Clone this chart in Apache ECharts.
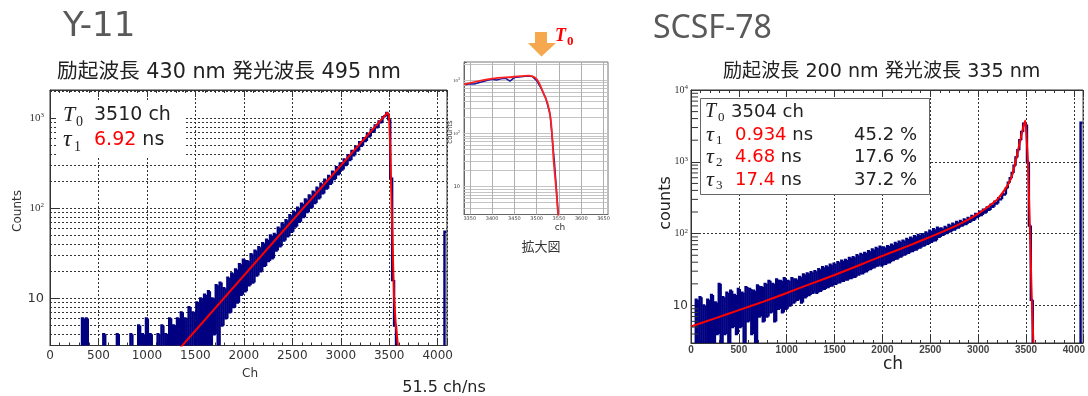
<!DOCTYPE html>
<html><head><meta charset="utf-8">
<script src="https://cdn.jsdelivr.net/npm/echarts@6.0.0/dist/echarts.min.js"></script>
<style>html,body{margin:0;padding:0;background:#fff}#c{width:1088px;height:396px}</style>
</head><body><div id="c"></div>
<script>
// ---------------- data ----------------
const chStep = 20; // digitised channel spacing of the measured histograms
// Y-11 measured counts, channel = index * chStep (values < 3 lie below the axis)
const y11Counts = [
  1,1,1,1,1,1,1,1,1,1,
  1,1,1,1,1,1,1,6,3,6,
  1,1,1,1,1,1,1,1,4,1,
  1,1,1,1,1,4,1,1,1,1,
  1,1,4,1,1,1,5,1,4,1,
  6,1,4,1,1,1,4,1,5,1,
  4,1,6,2,5,1,6,2,7,1,
  6,2,8,2,7,1,9,2,10,3,
  11,2,12,3,10,4,14,3,15,5,
  13,6,17,7,19,8,21,9,24,11,
  27,12,26,14,31,15,34,18,37,20,
  41,23,45,26,50,28,52,34,61,38,
  68,44,74,49,84,55,92,63,102,71,
  113,80,126,91,139,102,153,115,170,130,
  188,147,208,166,230,188,256,212,287,240,
  316,270,350,304,390,345,434,390,486,440,
  543,496,604,560,672,630,750,710,836,796,
  928,905,1030,1060,1150,980,220,16,5,1,
  1,1,1,1,1,1,1,1,1,1,
  1,1,1,1,1,1,1,1,1,1,
  1,1,1,1,55
];
const y11FitCh     = [1300, 3481, 3495, 3500, 3507, 3549, 3566, 3590];
const y11FitCounts = [2.5, 1160, 1100, 950, 590, 10.6, 5.4, 3];
const y11MinorGrid = [4,5,6,7,8,9,20,30,40,50,60,70,80,90,200,300,400,500,600,700,800,900,2000];

// SCSF-78 measured counts, channel = index * chStep
const scsfCounts = [
  1,1,1,12,2,13,3,10,1,12,
  3,14,2,11,4,20,3,13,4,15,
  2,16,5,14,4,17,5,15,3,18,
  6,17,4,16,2,19,7,18,6,20,
  7,22,8,20,6,23,9,22,8,24,
  9,22,10,24,11,23,12,25,11,27,
  13,28,14,29,15,30,15,32,16,34,
  17,35,18,37,19,38,20,40,21,42,
  22,43,23,46,24,47,25,50,27,52,
  28,54,30,57,32,60,34,63,36,66,
  36,64,38,67,40,70,43,74,45,77,
  48,80,51,84,54,88,57,92,60,96,
  64,98,68,104,72,110,77,115,81,121,
  90,118,96,124,102,132,108,138,114,146,
  122,150,130,158,136,166,146,176,156,188,
  170,202,182,216,196,232,214,252,236,278,
  262,312,300,355,350,430,510,590,700,880,
  1150,1450,2000,2600,3400,3300,1000,130,12,1,
  1,1,1,1,1,1,1,1,1,1,
  1,1,1,1,1,1,1,1,1,1,
  1,1,1,1,3500
];
const scsfFitCh     = [0, 250, 500, 750, 1000, 1250, 1500, 1750, 2000, 2250, 2500, 2750, 2900, 3000, 3100, 3200, 3300, 3350, 3400, 3440, 3470, 3492, 3505, 3519, 3532, 3546, 3556, 3566, 3578];
const scsfFitCounts = [5.1, 6.6, 8.6, 11.2, 14.9, 20, 26.5, 36, 49, 66, 90, 125, 158, 190, 235, 300, 455, 620, 1150, 2000, 3000, 3750, 2200, 1070, 290, 66, 20, 7, 3];
const scsfMinorTicks = [4,5,6,7,8,9,20,30,40,50,60,70,80,90,200,300,400,500,600,700,800,900,2000,3000,4000,5000,6000,7000,8000,9000];

// enlarged view (拡大図) around T0
const insetCh      = [3340,3350,3360,3370,3380,3390,3400,3410,3420,3430,3440,3450,3460,3470,3480,3490,3500,3510,3520,3530,3540,3550];
const insetCounts  = [820,860,850,900,950,1000,1040,1010,1060,1090,960,1120,1150,1170,1200,1180,980,700,470,230,28,2];
const insetFitCh     = [3337, 3400, 3445, 3482, 3496, 3505, 3516, 3524, 3531, 3535, 3538, 3544, 3548, 3552];
const insetFitCounts = [840, 1070, 1150, 1220, 1120, 900, 550, 380, 200, 83, 31, 8.4, 3.1, 1.5];
const insetTicks = [3350, 3400, 3450, 3500, 3550, 3600, 3650];
const insetMinorGrid = [4,5,6,7,8,9,10,20,30,40,50,60,70,80,90,100,200,300,400,500,600,700,800,900,1000,2000];

// ---------------- chart ----------------
const FONT = "'DejaVu Sans', 'Noto Sans CJK JP', sans-serif";
const SERIF = "'Liberation Serif', 'DejaVu Serif', serif";
const CJK = "'DejaVu Sans', 'Noto Sans CJK JP', sans-serif";
const BLUE = '#000080';
const pairs = (xs, ys) => xs.map((x, i) => [x, ys[i]]);
// histogram bins: [channel, count, previous bin count]
const histData = ys => ys.map((v, i) => [i * chStep, v, i > 0 ? ys[i - 1] : v]);

// draws one histogram bin: vertical edge from the previous count, then the bin top
function histBin(params, api) {
  const ch = api.value(0), v = api.value(1), prev = api.value(2);
  const a = api.coord([ch - chStep / 2, prev]);
  const b = api.coord([ch - chStep / 2, v]);
  const c = api.coord([ch + chStep / 2, v]);
  return { type: 'polyline', shape: { points: [a, b, c] },
    style: { stroke: BLUE, lineWidth: 2.4, fill: 'none' } };
}

function logLabel(fs, sfs, tfs, margin) {
  return {
    margin: margin,
    formatter: v => {
      const e = Math.log10(v), r = Math.round(e);
      if (Math.abs(e - r) > 1e-6) return '';
      return r === 1 ? '{t|10}' : '{b|10}{s|' + r + '}';
    },
    rich: {
      b: { fontFamily: SERIF, fontSize: fs, color: '#333', lineHeight: fs + 2 },
      s: { fontFamily: SERIF, fontSize: sfs, color: '#333', verticalAlign: 'top', lineHeight: sfs },
      t: { fontFamily: FONT, fontSize: tfs, color: '#333' }
    }
  };
}
const chLabel = v => (v % 500 === 0 ? String(v) : '');
const dotted = { color: '#333', type: [2, 2], width: 1 };

const option = {
  animation: false,
  backgroundColor: '#fff',
  grid: [
    { left: 50, top: 90, width: 397, height: 255.5, show: true, borderColor: '#333', borderWidth: 1 },
    { left: 691, top: 90, width: 397, height: 253, show: true, borderColor: '#333', borderWidth: 1 },
    { left: 464, top: 62, width: 144, height: 152.5, show: true, borderColor: '#777', borderWidth: 1 }
  ],
  xAxis: [
    { gridIndex: 0, type: 'value', min: 0, max: 4096, interval: 500, position: 'bottom',
      axisLine: { lineStyle: { color: '#333' } },
      axisTick: { inside: true, length: 7, lineStyle: { color: '#333' } },
      minorTick: { show: true, splitNumber: 5, length: 3, lineStyle: { color: '#333' } },
      axisLabel: { formatter: chLabel, margin: 4, fontFamily: FONT, fontSize: 12, color: '#333' },
      splitLine: { show: true, lineStyle: dotted } },
    { gridIndex: 0, type: 'value', min: 0, max: 4096, interval: 500, position: 'top',
      axisLine: { lineStyle: { color: '#333' } },
      axisTick: { inside: true, length: 7, lineStyle: { color: '#333' } },
      minorTick: { show: true, splitNumber: 5, length: 3, lineStyle: { color: '#333' } },
      axisLabel: { show: false }, splitLine: { show: false } },
    { gridIndex: 1, type: 'value', min: 0, max: 4096, interval: 500, position: 'bottom',
      axisLine: { lineStyle: { color: '#333' } },
      axisTick: { inside: true, length: 7, lineStyle: { color: '#333' } },
      minorTick: { show: true, splitNumber: 5, length: 3, lineStyle: { color: '#333' } },
      axisLabel: { formatter: chLabel, margin: 2, fontFamily: "'Liberation Sans', Arial, sans-serif", fontWeight: 'bold', fontSize: 10, color: '#444' },
      splitLine: { show: true, lineStyle: dotted } },
    { gridIndex: 1, type: 'value', min: 0, max: 4096, interval: 500, position: 'top',
      axisLine: { lineStyle: { color: '#333' } },
      axisTick: { inside: true, length: 7, lineStyle: { color: '#333' } },
      minorTick: { show: true, splitNumber: 5, length: 3, lineStyle: { color: '#333' } },
      axisLabel: { show: false }, splitLine: { show: false } },
    { gridIndex: 2, type: 'value', min: 3337, max: 3660, position: 'bottom',
      axisLine: { lineStyle: { color: '#666' } },
      axisTick: { inside: true, length: 3, customValues: insetTicks, lineStyle: { color: '#666' } },
      axisLabel: { customValues: insetTicks, formatter: v => String(v), margin: 2, fontFamily: FONT, fontSize: 5, color: '#444' },
      splitLine: { show: false } }
  ],
  yAxis: [
    { gridIndex: 0, type: 'log', logBase: 10, min: 3, max: 2070,
      axisLine: { lineStyle: { color: '#333' } },
      axisTick: { inside: true, length: 10, lineStyle: { color: '#333' } },
      axisLabel: logLabel(11, 7, 13, 6),
      splitLine: { show: true, lineStyle: dotted } },
    { gridIndex: 1, type: 'log', logBase: 10, min: 3, max: 10000,
      axisLine: { lineStyle: { color: '#333' } },
      axisTick: { inside: true, length: 10, lineStyle: { color: '#333' } },
      axisLabel: Object.assign(logLabel(10, 7, 12, 3), { showMaxLabel: true, showMinLabel: false }),
      splitLine: { show: true, lineStyle: dotted } },
    { gridIndex: 2, type: 'log', logBase: 10, min: 3, max: 2200,
      axisLine: { lineStyle: { color: '#666' } },
      axisTick: { inside: true, length: 3, lineStyle: { color: '#666' } },
      axisLabel: logLabel(5, 4, 5, 4),
      splitLine: { show: false } }
  ],
  series: [
    { name: 'Y-11 minor grid', type: 'line', xAxisIndex: 0, yAxisIndex: 0, data: [], silent: true,
      markLine: { silent: true, symbol: 'none', z: 1, animation: false, label: { show: false },
        lineStyle: dotted, data: y11MinorGrid.map(v => ({ yAxis: v })) } },
    { name: 'Y-11 data', type: 'custom', xAxisIndex: 0, yAxisIndex: 0, data: histData(y11Counts),
      renderItem: histBin, clip: true, z: 2, silent: true },
    { name: 'Y-11 fit', type: 'line', xAxisIndex: 0, yAxisIndex: 0, data: pairs(y11FitCh, y11FitCounts),
      showSymbol: false, symbol: 'none', clip: true, z: 3, silent: true,
      lineStyle: { color: '#ff0000', width: 2 } },
    { name: 'SCSF-78 data', type: 'custom', xAxisIndex: 2, yAxisIndex: 1, data: histData(scsfCounts),
      renderItem: histBin, clip: true, z: 2, silent: true },
    { name: 'SCSF-78 minor ticks', type: 'custom', xAxisIndex: 2, yAxisIndex: 1,
      data: scsfMinorTicks.map(v => [0, v]), silent: true, z: 4, clip: false,
      renderItem: (params, api) => {
        const p = api.coord([api.value(0), api.value(1)]);
        return { type: 'line', shape: { x1: p[0], y1: p[1], x2: p[0] + 7, y2: p[1] }, style: { stroke: '#333', lineWidth: 1 } };
      } },
    { name: 'SCSF-78 fit', type: 'line', xAxisIndex: 2, yAxisIndex: 1, data: pairs(scsfFitCh, scsfFitCounts),
      showSymbol: false, symbol: 'none', clip: true, z: 3, silent: true, smooth: 0.2,
      lineStyle: { color: '#ff0000', width: 2 } },
    { name: 'inset data', type: 'line', xAxisIndex: 4, yAxisIndex: 2, data: pairs(insetCh, insetCounts),
      showSymbol: false, symbol: 'none', clip: true, z: 2, silent: true,
      lineStyle: { color: '#1a1aa0', width: 1.5 },
      markLine: { silent: true, symbol: 'none', z: 1, animation: false, label: { show: false },
        lineStyle: { color: '#c4c4c4', type: 'solid', width: 1 },
        data: insetMinorGrid.map(v => ({ yAxis: v })) } },
    { name: 'inset fit', type: 'line', xAxisIndex: 4, yAxisIndex: 2, data: pairs(insetFitCh, insetFitCounts),
      showSymbol: false, symbol: 'none', clip: true, z: 3, silent: true, smooth: 0.3,
      lineStyle: { color: '#ff2020', width: 1.8 },
      markLine: { silent: true, symbol: 'none', z: 1, animation: false, label: { show: false },
        lineStyle: { color: '#b0b0b0', type: 'solid', width: 1 },
        data: insetTicks.map(v => ({ xAxis: v })) } }
  ],
  graphic: [
    // titles
    { type: 'text', x: 63, y: 27, z: 20, style: { text: 'Y-11', fontFamily: FONT, fontSize: 34, fill: '#595959', verticalAlign: 'middle' } },
    { type: 'text', x: 653, y: 29, z: 20, style: { text: 'SCSF-78', fontFamily: "'Noto Sans', sans-serif", fontSize: 32, fill: '#595959', verticalAlign: 'middle' } },
    { type: 'text', x: 57, y: 73, z: 20, style: { text: '励起波長 430 nm 発光波長 495 nm', fontFamily: CJK, fontSize: 20.7, fill: '#222', verticalAlign: 'middle' } },
    { type: 'text', x: 723, y: 72, z: 20, style: { text: '励起波長 200 nm 発光波長 335 nm', fontFamily: CJK, fontSize: 19.1, fill: '#222', verticalAlign: 'middle' } },
    // left legend box
    { type: 'rect', z: 10, shape: { x: 56, y: 100, width: 128, height: 57 }, style: { fill: '#fff' } },
    { type: 'text', x: 63, y: 115, z: 11, style: { text: 'T', fontFamily: SERIF, fontStyle: 'italic', fontSize: 22, fill: '#222', verticalAlign: 'middle' } },
    { type: 'text', x: 76, y: 122, z: 11, style: { text: '0', fontFamily: SERIF, fontSize: 14, fill: '#222', verticalAlign: 'middle' } },
    { type: 'text', x: 94, y: 115, z: 11, style: { text: '3510 ch', fontFamily: FONT, fontSize: 19, fill: '#222', verticalAlign: 'middle' } },
    { type: 'text', x: 63, y: 140, z: 11, style: { text: 'τ', fontFamily: SERIF, fontStyle: 'italic', fontSize: 24, fill: '#222', verticalAlign: 'middle' } },
    { type: 'text', x: 74, y: 147, z: 11, style: { text: '1', fontFamily: SERIF, fontSize: 14, fill: '#222', verticalAlign: 'middle' } },
    { type: 'text', x: 94, y: 140, z: 11, style: { text: '{r|6.92}{k| ns}', verticalAlign: 'middle',
        rich: { r: { fill: '#ff0000', fontFamily: FONT, fontSize: 19 }, k: { fill: '#222', fontFamily: FONT, fontSize: 19 } } } },
    // right legend box
    { type: 'rect', z: 10, shape: { x: 700.5, y: 98.5, width: 229, height: 96 }, style: { fill: '#fff', stroke: '#666', lineWidth: 1 } },
    { type: 'text', x: 705, y: 112, z: 11, style: { text: 'T', fontFamily: SERIF, fontStyle: 'italic', fontSize: 20, fill: '#222', verticalAlign: 'middle' } },
    { type: 'text', x: 718, y: 118, z: 11, style: { text: '0', fontFamily: SERIF, fontSize: 13, fill: '#222', verticalAlign: 'middle' } },
    { type: 'text', x: 731, y: 112, z: 11, style: { text: '3504 ch', fontFamily: FONT, fontSize: 18, fill: '#222', verticalAlign: 'middle' } },
    { type: 'text', x: 706, y: 135, z: 11, style: { text: 'τ', fontFamily: SERIF, fontStyle: 'italic', fontSize: 22, fill: '#222', verticalAlign: 'middle' } },
    { type: 'text', x: 716, y: 141, z: 11, style: { text: '1', fontFamily: SERIF, fontSize: 13, fill: '#222', verticalAlign: 'middle' } },
    { type: 'text', x: 706, y: 157, z: 11, style: { text: 'τ', fontFamily: SERIF, fontStyle: 'italic', fontSize: 22, fill: '#222', verticalAlign: 'middle' } },
    { type: 'text', x: 716, y: 163, z: 11, style: { text: '2', fontFamily: SERIF, fontSize: 13, fill: '#222', verticalAlign: 'middle' } },
    { type: 'text', x: 706, y: 180, z: 11, style: { text: 'τ', fontFamily: SERIF, fontStyle: 'italic', fontSize: 22, fill: '#222', verticalAlign: 'middle' } },
    { type: 'text', x: 716, y: 186, z: 11, style: { text: '3', fontFamily: SERIF, fontSize: 13, fill: '#222', verticalAlign: 'middle' } },
    { type: 'text', x: 735, y: 135, z: 11, style: { text: '{r|0.934}{k| ns}', verticalAlign: 'middle',
        rich: { r: { fill: '#ff0000', fontFamily: FONT, fontSize: 18 }, k: { fill: '#222', fontFamily: FONT, fontSize: 18 } } } },
    { type: 'text', x: 735, y: 157, z: 11, style: { text: '{r|4.68}{k| ns}', verticalAlign: 'middle',
        rich: { r: { fill: '#ff0000', fontFamily: FONT, fontSize: 18 }, k: { fill: '#222', fontFamily: FONT, fontSize: 18 } } } },
    { type: 'text', x: 735, y: 180, z: 11, style: { text: '{r|17.4}{k| ns}', verticalAlign: 'middle',
        rich: { r: { fill: '#ff0000', fontFamily: FONT, fontSize: 18 }, k: { fill: '#222', fontFamily: FONT, fontSize: 18 } } } },
    { type: 'text', x: 917, y: 135, z: 11, style: { text: '45.2 %', align: 'right', fontFamily: FONT, fontSize: 18, fill: '#222', verticalAlign: 'middle' } },
    { type: 'text', x: 917, y: 157, z: 11, style: { text: '17.6 %', align: 'right', fontFamily: FONT, fontSize: 18, fill: '#222', verticalAlign: 'middle' } },
    { type: 'text', x: 917, y: 180, z: 11, style: { text: '37.2 %', align: 'right', fontFamily: FONT, fontSize: 18, fill: '#222', verticalAlign: 'middle' } },
    // axis names
    { type: 'text', x: 250, y: 374, z: 11, style: { text: 'Ch', align: 'center', fontFamily: FONT, fontSize: 12, fill: '#333', verticalAlign: 'middle' } },
    { type: 'text', x: 18, y: 211, rotation: Math.PI / 2, z: 11, style: { text: 'Counts', align: 'center', fontFamily: FONT, fontSize: 12, fill: '#333', verticalAlign: 'middle' } },
    { type: 'text', x: 893, y: 365, z: 11, style: { text: 'ch', align: 'center', fontFamily: FONT, fontSize: 17, fill: '#222', verticalAlign: 'middle' } },
    { type: 'text', x: 666, y: 203, rotation: Math.PI / 2, z: 11, style: { text: 'counts', align: 'center', fontFamily: FONT, fontSize: 16, fill: '#222', verticalAlign: 'middle' } },
    { type: 'text', x: 444, y: 388, z: 11, style: { text: '51.5 ch/ns', align: 'center', fontFamily: FONT, fontSize: 16, fill: '#222', verticalAlign: 'middle' } },
    // inset annotations
    { type: 'text', x: 450, y: 132, rotation: Math.PI / 2, z: 11, style: { text: 'counts', align: 'center', fontFamily: FONT, fontSize: 7, fill: '#333', verticalAlign: 'middle' } },
    { type: 'text', x: 560, y: 228, z: 11, style: { text: 'ch', align: 'center', fontFamily: FONT, fontSize: 9, fill: '#333', verticalAlign: 'middle' } },
    { type: 'text', x: 541, y: 248, z: 11, style: { text: '拡大図', align: 'center', fontFamily: CJK, fontSize: 13, fill: '#333', verticalAlign: 'middle' } },
    { type: 'polygon', z: 11, shape: { points: [[535, 32], [547, 32], [547, 43], [556, 43], [541.5, 56.5], [528, 43], [535, 43]] }, style: { fill: '#f5a84e' } },
    { type: 'text', x: 555, y: 36, z: 11, style: { text: 'T', fontFamily: SERIF, fontStyle: 'italic', fontWeight: 'bold', fontSize: 18, fill: '#ff0000', verticalAlign: 'middle' } },
    { type: 'text', x: 567, y: 42, z: 11, style: { text: '0', fontFamily: SERIF, fontWeight: 'bold', fontSize: 13, fill: '#ff0000', verticalAlign: 'middle' } }
  ]
};
const chart = echarts.init(document.getElementById('c'), null, { renderer: 'canvas' });
chart.setOption(option);
</script></body></html>
